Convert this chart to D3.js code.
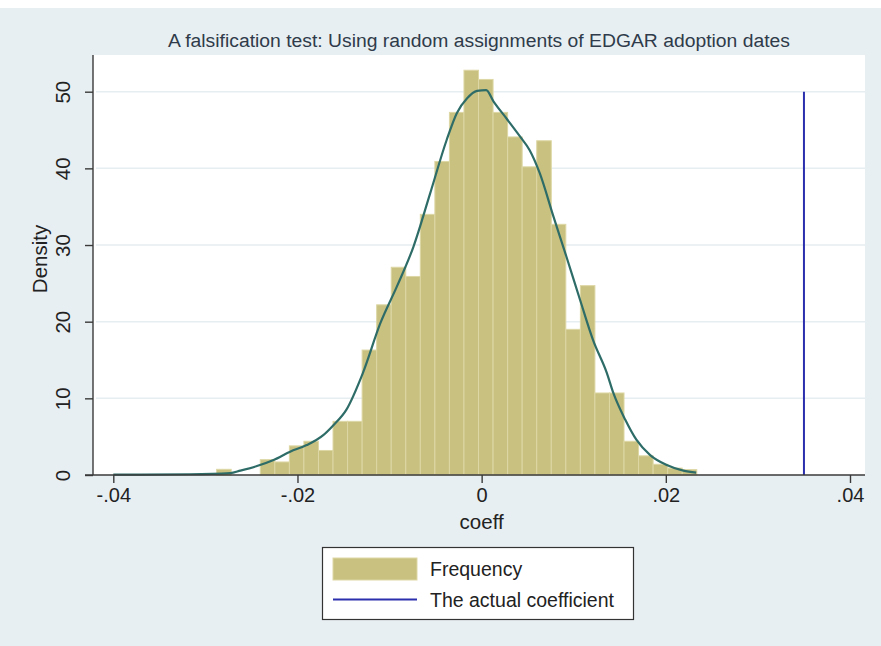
<!DOCTYPE html>
<html>
<head>
<meta charset="utf-8">
<script src="https://cdn.jsdelivr.net/npm/d3@7/dist/d3.min.js"></script>
<style>
  html, body { margin: 0; padding: 0; background: #ffffff; }
  svg { display: block; }
  text { font-family: "Liberation Sans", Arial, Helvetica, sans-serif; }
</style>
</head>
<body>
<script>
// ---------- data ----------
const titleText = "A falsification test: Using random assignments of EDGAR adoption dates";
const xLabel = "coeff";
const yLabel = "Density";
const xTicks = [-0.04, -0.02, 0, 0.02, 0.04];
const xTickLabels = ["-.04", "-.02", "0", ".02", ".04"];
const yTicks = [0, 10, 20, 30, 40, 50];

// histogram: bins start and width, and densities per bin
const binStart = -0.02878;
const binWidth = 0.00158;
const binDensity = [0.74, 0, 0, 2.0, 1.7, 3.8, 4.4, 3.2, 7.0, 7.0,
                    16.3, 22.2, 27.1, 25.9, 34.0, 40.9, 47.3, 52.8, 51.6, 47.3,
                    44.1, 40.2, 43.6, 32.7, 19.0, 24.7, 10.7, 10.7, 4.4, 2.5,
                    1.4, 0.9, 0.7];

// kernel density curve
const kdX = [-0.0400, -0.0317, -0.0273, -0.0262, -0.0244, -0.0226, -0.0208, -0.0190, -0.0172, -0.0161,
             -0.0147, -0.0129, -0.0110, -0.0092, -0.0074, -0.0056, -0.0038, -0.0027, -0.0016, -0.0005,
              0.0005,  0.0013,  0.0027,  0.0042,  0.0052,  0.0063,  0.0078,  0.0092,  0.0107,  0.0121,
              0.0136,  0.0143,  0.0156,  0.0168,  0.0183,  0.0201,  0.0219,  0.0233];
const kdY = [0.05, 0.1, 0.25, 0.57, 1.17, 1.96, 3.04, 3.9, 5.2, 6.5,
             8.5, 13.3, 19.8, 24.6, 29.8, 36.7, 43.7, 47.2, 49.1, 50.1,
             50.2, 48.7, 46.5, 44.1, 42.4, 39.4, 33.7, 28.5, 22.8, 17.6,
             13.3, 10.7, 7.2, 4.6, 2.6, 1.3, 0.57, 0.3];

// the actual coefficient
const actualCoef = 0.035;
const actualTop = 50;

const legendLabels = ["Frequency", "The actual coefficient"];

// ---------- layout ----------
const W = 881, H = 646;
const plotL = 93, plotR = 865, plotT = 55, plotB = 475;

const colBg = "#e8eff2";
const colBar = "#c9c180";
const colBarEdge = "#ddd7a5";
const colCurve = "#2e6c68";
const colBlue = "#2b2fae";
const colAxis = "#3a3a3a";
const colGrid = "#e6eef1";
const colText = "#222222";

const svg = d3.select("body").append("svg").attr("width", W).attr("height", H);

svg.append("rect").attr("x", 0).attr("y", 0).attr("width", W).attr("height", H).attr("fill", colBg);
svg.append("rect").attr("x", 0).attr("y", 0).attr("width", W).attr("height", 8).attr("fill", "#ffffff");

svg.append("rect").attr("x", plotL).attr("y", plotT).attr("width", plotR - plotL).attr("height", plotB - plotT).attr("fill", "#ffffff");

const x = d3.scaleLinear().domain([-0.04, 0.04]).range([113.3, 850]);
const y = d3.scaleLinear().domain([0, 50]).range([475, 91.7]);

// gridlines
svg.append("g").selectAll("line").data(yTicks.filter(d => d > 0)).join("line")
  .attr("x1", plotL + 3).attr("x2", plotR)
  .attr("y1", d => y(d)).attr("y2", d => y(d))
  .attr("stroke", colGrid).attr("stroke-width", 1.5);

// histogram bars
const bins = binDensity.map((v, i) => ({x0: binStart + i * binWidth, x1: binStart + (i + 1) * binWidth, v}));
svg.append("g").selectAll("rect").data(bins.filter(b => b.v > 0)).join("rect")
  .attr("x", b => x(b.x0))
  .attr("width", b => x(b.x1) - x(b.x0))
  .attr("y", b => y(b.v))
  .attr("height", b => y(0) - y(b.v))
  .attr("fill", colBar)
  .attr("stroke", colBarEdge)
  .attr("stroke-width", 1);

// density curve
const kd = kdX.map((d, i) => [d, kdY[i]]);
svg.append("path").datum(kd)
  .attr("d", d3.line().x(d => x(d[0])).y(d => y(d[1])).curve(d3.curveMonotoneX))
  .attr("fill", "none").attr("stroke", colCurve).attr("stroke-width", 2.2);

// actual coefficient line
svg.append("line")
  .attr("x1", x(actualCoef)).attr("x2", x(actualCoef))
  .attr("y1", y(0)).attr("y2", y(actualTop))
  .attr("stroke", colBlue).attr("stroke-width", 2);

// y axis
const yAxis = svg.append("g").attr("transform", `translate(${plotL},0)`)
  .call(d3.axisLeft(y).tickValues(yTicks).tickSize(8).tickPadding(10).tickFormat(d3.format("d")));
yAxis.select(".domain").attr("d", `M0,${plotT}V${plotB}`).attr("stroke", colAxis).attr("stroke-width", 1.4);
yAxis.selectAll(".tick line").attr("stroke", colAxis).attr("stroke-width", 1.4);
yAxis.selectAll(".tick text")
  .attr("x", 0).attr("dy", 0)
  .attr("transform", "translate(-23,0) rotate(-90)")
  .attr("text-anchor", "middle")
  .attr("font-size", 20.5).attr("fill", colText)
  .attr("font-family", "Liberation Sans, Arial, sans-serif");

// x axis
const xAxis = svg.append("g").attr("transform", `translate(0,${plotB})`)
  .call(d3.axisBottom(x).tickValues(xTicks).tickSize(8).tickPadding(5)
        .tickFormat((d, i) => xTickLabels[i]));
xAxis.select(".domain").attr("d", `M${plotL - 8},0H${plotR}`).attr("stroke", colAxis).attr("stroke-width", 1.4);
xAxis.selectAll(".tick line").attr("stroke", colAxis).attr("stroke-width", 1.4);
xAxis.selectAll(".tick text").attr("font-size", 20).attr("fill", colText)
  .attr("font-family", "Liberation Sans, Arial, sans-serif");

// axis titles
svg.append("text").attr("x", x(0)).attr("y", 529).attr("text-anchor", "middle")
  .attr("font-size", 20.5).attr("fill", colText).text(xLabel);
svg.append("text").attr("transform", `translate(47,${(plotT + plotB) / 2 - 6}) rotate(-90)`)
  .attr("text-anchor", "middle").attr("font-size", 20.5).attr("fill", colText).text(yLabel);

// title
svg.append("text").attr("x", 479).attr("y", 47).attr("text-anchor", "middle")
  .attr("font-size", 18).attr("fill", "#2f3b4a")
  .attr("textLength", 622).attr("lengthAdjust", "spacingAndGlyphs")
  .text(titleText);

// legend
const lg = svg.append("g");
lg.append("rect").attr("x", 322.5).attr("y", 547.5).attr("width", 311).attr("height", 72)
  .attr("fill", "#ffffff").attr("stroke", "#333333").attr("stroke-width", 1.2);
lg.append("rect").attr("x", 333).attr("y", 558).attr("width", 84).attr("height", 22)
  .attr("fill", colBar).attr("stroke", colBarEdge).attr("stroke-width", 1);
lg.append("line").attr("x1", 333).attr("x2", 417).attr("y1", 599.5).attr("y2", 599.5)
  .attr("stroke", colBlue).attr("stroke-width", 2);
lg.selectAll("text.lab").data(legendLabels).join("text").attr("class", "lab")
  .attr("x", 430).attr("y", (d, i) => 576 + i * 31)
  .attr("font-size", 19.5).attr("fill", colText).text(d => d);
</script>
</body>
</html>
